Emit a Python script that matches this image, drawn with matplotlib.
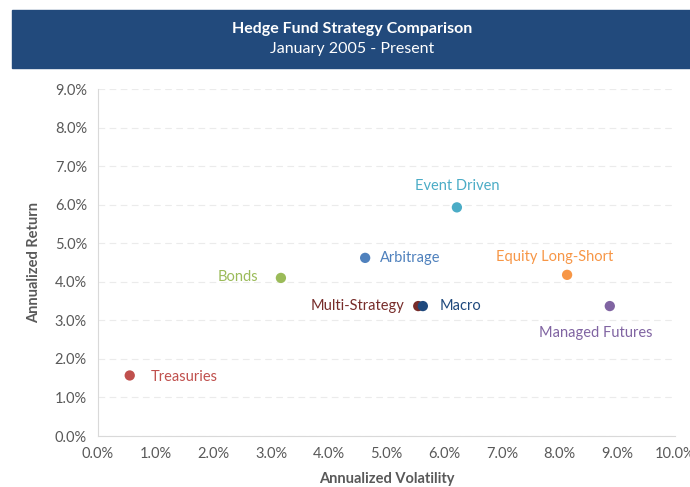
import matplotlib
matplotlib.use("Agg")
import matplotlib.pyplot as plt
from matplotlib.ticker import FuncFormatter, MultipleLocator
from matplotlib.patches import Rectangle

plt.rcParams['font.family'] = ['Lato', 'DejaVu Sans']

names = ["Treasuries", "Bonds", "Arbitrage", "Event Driven", "Multi-Strategy",
         "Macro", "Equity Long-Short", "Managed Futures"]
volatility = [0.55, 3.17, 4.63, 6.22, 5.55, 5.63, 8.13, 8.87]
returns = [1.57, 4.10, 4.62, 5.93, 3.37, 3.37, 4.18, 3.37]
colors = ["#C0504D", "#9BBB59", "#4F81BD", "#4BACC6", "#772C2A",
          "#1F497D", "#F79646", "#8064A2"]
# label offsets in points and alignment
label_pos = [((15, -1), "left", "center"),
             ((-16, 1), "right", "center"),
             ((11, 0), "left", "center"),
             ((0, 10), "center", "bottom"),
             ((-10, 0), "right", "center"),
             ((12, 0), "left", "center"),
             ((-9, 8), "center", "bottom"),
             ((-10, -14), "center", "top")]

fig = plt.figure(figsize=(6.9, 4.87), dpi=100)
fig.patches.append(Rectangle((12 / 690, 1 - 68 / 487), 678 / 690, 58 / 487,
                             transform=fig.transFigure, color="#224A7C", zorder=0))
fig.text(0.51, 1 - 29 / 487, "Hedge Fund Strategy Comparison", color="white",
         fontsize=11.5, fontweight="bold", ha="center", va="center")
fig.text(0.51, 1 - 49 / 487, "January 2005 - Present", color="white",
         fontsize=11.5, ha="center", va="center")

ax = fig.add_axes([98 / 690, 51 / 487, 577 / 690, 347 / 487])
for x, y, c, n, (off, ha, va) in zip(volatility, returns, colors, names, label_pos):
    ax.scatter(x, y, s=55, color=c, zorder=3, edgecolors="none")
    ax.annotate(n, (x, y), xytext=off, textcoords="offset points",
                ha=ha, va=va, color=c, fontsize=10.5)

ax.set_xlim(0, 10)
ax.set_ylim(0, 9)
ax.xaxis.set_major_locator(MultipleLocator(1))
ax.yaxis.set_major_locator(MultipleLocator(1))
pct = FuncFormatter(lambda v, p: f"{v:.1f}%")
ax.xaxis.set_major_formatter(pct)
ax.yaxis.set_major_formatter(pct)
ax.grid(axis="y", color="#EBEBEB", linestyle=(0, (6, 4)), linewidth=0.8)
ax.set_axisbelow(True)
for s in ["top", "right"]:
    ax.spines[s].set_visible(False)
for s in ["left", "bottom"]:
    ax.spines[s].set_color("#D9D9D9")
ax.tick_params(length=0, labelsize=10.5, labelcolor="#595959", pad=8)
ax.set_xlabel("Annualized Volatility", fontsize=10.5, fontweight="bold", color="#595959", labelpad=8)
ax.set_ylabel("Annualized Return", fontsize=10.5, fontweight="bold", color="#595959", labelpad=10)

fig.savefig("out.png", dpi=100)
